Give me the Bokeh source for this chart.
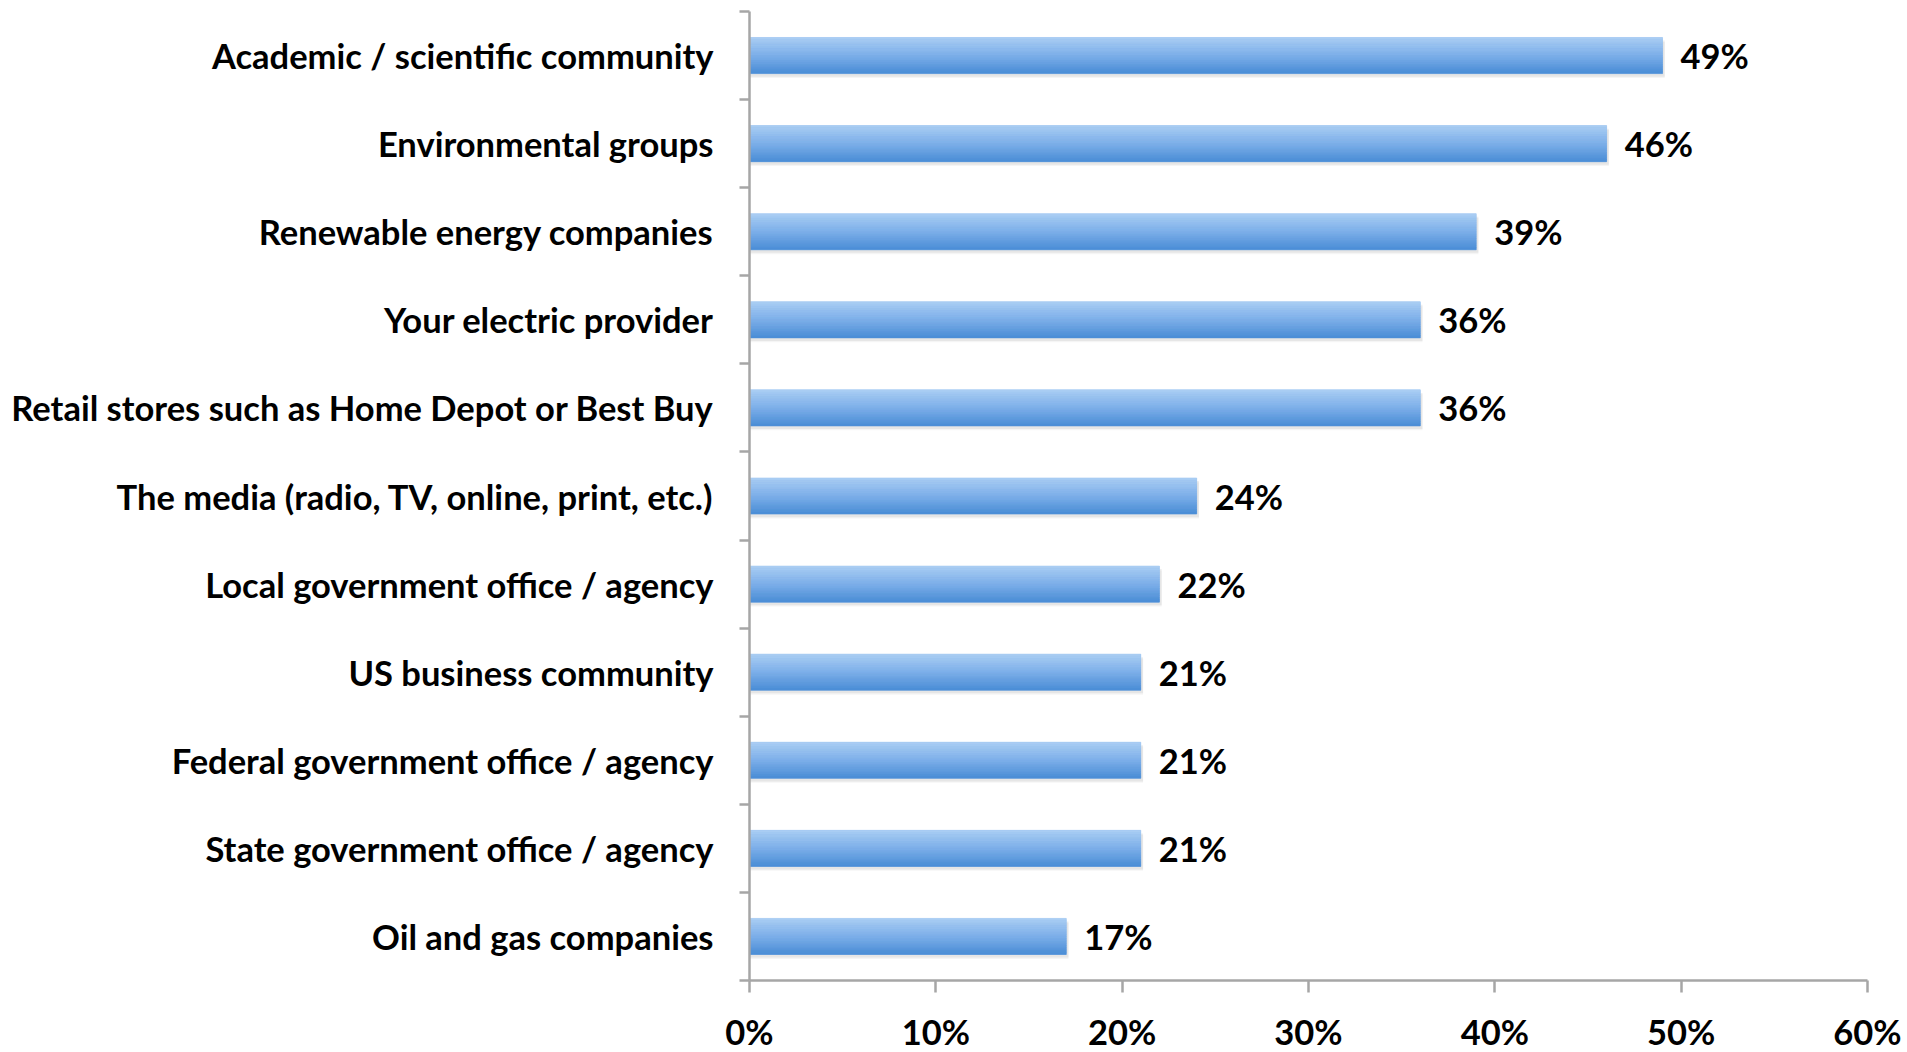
from bokeh.plotting import figure
from bokeh.models import Range1d, FixedTicker, PrintfTickFormatter, ColumnDataSource
from bokeh.transform import dodge
from bokeh.core.properties import value
from bokeh.embed import file_html
from bokeh.resources import INLINE

categories = [
    "Academic / scientific community",
    "Environmental groups",
    "Renewable energy companies",
    "Your electric provider",
    "Retail stores such as Home Depot or Best Buy",
    "The media (radio, TV, online, print, etc.)",
    "Local government office / agency",
    "US business community",
    "Federal government office / agency",
    "State government office / agency",
    "Oil and gas companies",
]
values = [49, 46, 39, 36, 36, 24, 22, 21, 21, 21, 17]
x_ticks = [0, 10, 20, 30, 40, 50, 60]

FONT = "Lato"
FSIZE = "34.5px"
AXIS_COLOR = "#a6a6a6"

n = len(categories)
ypos = [n - 1 - i for i in range(n)]
labels = [f"{v}%" for v in values]
src = ColumnDataSource(dict(y=ypos, v=values, lab=labels))

p = figure(frame_width=1118, frame_height=969, output_backend="svg", toolbar_location=None,
           x_range=Range1d(0, 60), y_range=Range1d(-0.5, n - 0.5),
           min_border_left=749, min_border_right=40, min_border_top=11, min_border_bottom=60)
p.outline_line_color = None
p.grid.grid_line_color = None
p.background_fill_color = "white"
p.border_fill_color = "white"

bar_h = 0.41
# soft shadow
for off, a in [(-0.05, 0.10), (-0.035, 0.16)]:
    p.hbar(y=dodge("y", off), left=0, right=dodge("v", 0.12), height=bar_h,
           source=src, fill_color="#9a9a9a", fill_alpha=a, line_color=None)

# base bar
p.hbar(y="y", left=0, right="v", height=bar_h, source=src,
       fill_color="#7eb0ea", line_color=None)

# gradient bands (top light -> bottom dark)
top = (172, 207, 244)
mid = (126, 176, 234)
bot = (74, 141, 214)
N = 16
for k in range(N):
    t = (k + 0.5) / N  # 0 at top, 1 at bottom
    if t < 0.5:
        u = t / 0.5
        c = tuple(int(top[j] + (mid[j] - top[j]) * u) for j in range(3))
    else:
        u = (t - 0.5) / 0.5
        c = tuple(int(mid[j] + (bot[j] - mid[j]) * u) for j in range(3))
    off = bar_h / 2 - (k + 0.5) * bar_h / N
    p.hbar(y=dodge("y", off), left=0, right="v", height=bar_h / N,
           source=src, fill_color="#%02x%02x%02x" % c,
           line_color="#%02x%02x%02x" % c, line_width=0.6)

p.text(x="v", y="y", text="lab", source=src, x_offset=18, text_baseline="middle",
       text_align="left", text_font=value(FONT), text_font_style="bold",
       text_font_size=FSIZE, text_color="black")

# y axis
ya = p.yaxis[0]
ya.ticker = FixedTicker(ticks=ypos, minor_ticks=[k - 0.5 for k in range(n + 1)])
ya.major_label_overrides = {y: c for y, c in zip(ypos, categories)}
ya.major_tick_out = 0
ya.major_tick_in = 0
ya.minor_tick_out = 10
ya.minor_tick_in = 0
ya.minor_tick_line_color = AXIS_COLOR
ya.minor_tick_line_width = 2.5
ya.axis_line_color = AXIS_COLOR
ya.axis_line_width = 2.5
ya.major_label_standoff = 26
ya.major_label_text_font = FONT
ya.major_label_text_font_style = "bold"
ya.major_label_text_font_size = FSIZE
ya.major_label_text_color = "black"

# x axis
xa = p.xaxis[0]
xa.ticker = FixedTicker(ticks=x_ticks, minor_ticks=[])
xa.formatter = PrintfTickFormatter(format="%d%%")
xa.major_tick_out = 12
xa.major_tick_in = 0
xa.minor_tick_out = 0
xa.minor_tick_in = 0
xa.major_tick_line_color = AXIS_COLOR
xa.major_tick_line_width = 2.5
xa.axis_line_color = AXIS_COLOR
xa.axis_line_width = 2.5
xa.major_label_standoff = 18
xa.major_label_text_font = FONT
xa.major_label_text_font_style = "bold"
xa.major_label_text_font_size = FSIZE
xa.major_label_text_color = "black"

open("out.html", "w").write(file_html(p, INLINE))
